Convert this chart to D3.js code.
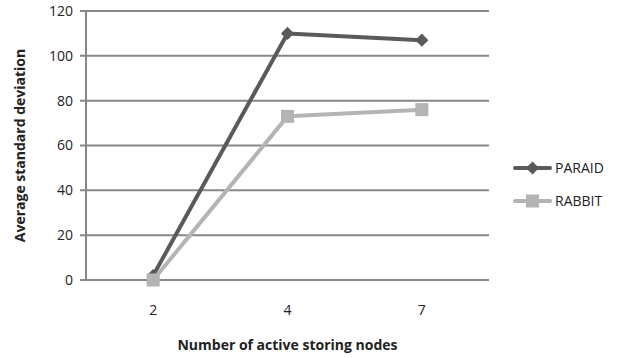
<!DOCTYPE html>
<html>
<head>
<meta charset="utf-8">
<script src="https://cdn.jsdelivr.net/npm/d3@7"></script>
<style>
  body { margin: 0; background: #fff; }
  svg { font-family: "Open Sans", "Liberation Sans", sans-serif; }
</style>
</head>
<body>
<svg id="chart" width="629" height="358"></svg>
<script>
const categories = ["2", "4", "7"];
const paraid = [2, 110, 107];
const rabbit = [0, 73, 76];
const yTicks = [0, 20, 40, 60, 80, 100, 120];
const seriesNames = ["PARAID", "RABBIT"];

const width = 629,
  height = 358;
const margin = { left: 86, right: 140, top: 11, bottom: 78 };
const gridColor = "#878787";
const colors = ["#5a5a5a", "#b4b4b4"];

const svg = d3.select("#chart");

const x = d3
  .scaleBand()
  .domain(categories)
  .range([margin.left, width - margin.right]);

const y = d3
  .scaleLinear()
  .domain([0, 120])
  .range([height - margin.bottom, margin.top]);

// gridlines + y ticks
svg
  .append("g")
  .selectAll("line")
  .data(yTicks)
  .enter()
  .append("line")
  .attr("x1", margin.left - 6)
  .attr("x2", width - margin.right)
  .attr("y1", (d) => y(d))
  .attr("y2", (d) => y(d))
  .attr("stroke", gridColor)
  .attr("stroke-width", 2);

svg
  .append("line")
  .attr("x1", margin.left)
  .attr("x2", margin.left)
  .attr("y1", y(120))
  .attr("y2", y(0))
  .attr("stroke", gridColor)
  .attr("stroke-width", 2);

svg
  .append("g")
  .selectAll("text")
  .data(yTicks)
  .enter()
  .append("text")
  .attr("x", margin.left - 13)
  .attr("y", (d) => y(d))
  .attr("dy", "0.35em")
  .attr("text-anchor", "end")
  .attr("font-size", 14)
  .attr("fill", "#222")
  .text((d) => d);

svg
  .append("g")
  .selectAll("text")
  .data(categories)
  .enter()
  .append("text")
  .attr("x", (d) => x(d) + x.bandwidth() / 2)
  .attr("y", y(0) + 35)
  .attr("text-anchor", "middle")
  .attr("font-size", 14)
  .attr("fill", "#222")
  .text((d) => d);

// axis titles
svg
  .append("text")
  .attr("x", (margin.left + width - margin.right) / 2)
  .attr("y", 350)
  .attr("text-anchor", "middle")
  .attr("font-size", 14)
  .attr("font-weight", "bold")
  .attr("fill", "#222")
  .text("Number of active storing nodes");

svg
  .append("text")
  .attr("transform", "translate(25," + y(60) + ") rotate(-90)")
  .attr("text-anchor", "middle")
  .attr("font-size", 14)
  .attr("font-weight", "bold")
  .attr("fill", "#222")
  .text("Average standard deviation");

const line = d3
  .line()
  .x((d, i) => x(categories[i]) + x.bandwidth() / 2)
  .y((d) => y(d));

const series = [paraid, rabbit];

function drawMarker(g, kind, cx, cy, color) {
  if (kind === 0) {
    g.append("path")
      .attr("d", d3.symbol().type(d3.symbolDiamond2).size(110)())
      .attr("transform", "translate(" + cx + "," + cy + ")")
      .attr("fill", color);
  } else {
    g.append("rect")
      .attr("x", cx - 6.5)
      .attr("y", cy - 6.5)
      .attr("width", 13)
      .attr("height", 13)
      .attr("fill", color);
  }
}

series.forEach(function (vals, k) {
  const g = svg.append("g");
  g.append("path")
    .datum(vals)
    .attr("d", line)
    .attr("fill", "none")
    .attr("stroke", colors[k])
    .attr("stroke-width", 4)
    .attr("stroke-linejoin", "round");
  vals.forEach(function (v, i) {
    drawMarker(g, k, x(categories[i]) + x.bandwidth() / 2, y(v), colors[k]);
  });
});

// legend
const legend = svg.append("g");
seriesNames.forEach(function (name, k) {
  const ly = 168 + k * 33;
  legend
    .append("line")
    .attr("x1", 515)
    .attr("x2", 550)
    .attr("y1", ly)
    .attr("y2", ly)
    .attr("stroke", colors[k])
    .attr("stroke-width", 4)
    .attr("stroke-linecap", "round");
  drawMarker(legend, k, 532.5, ly, colors[k]);
  legend
    .append("text")
    .attr("x", 555)
    .attr("y", ly)
    .attr("dy", "0.35em")
    .attr("font-size", 14)
    .attr("fill", "#222")
    .text(name);
});
</script>
</body>
</html>
